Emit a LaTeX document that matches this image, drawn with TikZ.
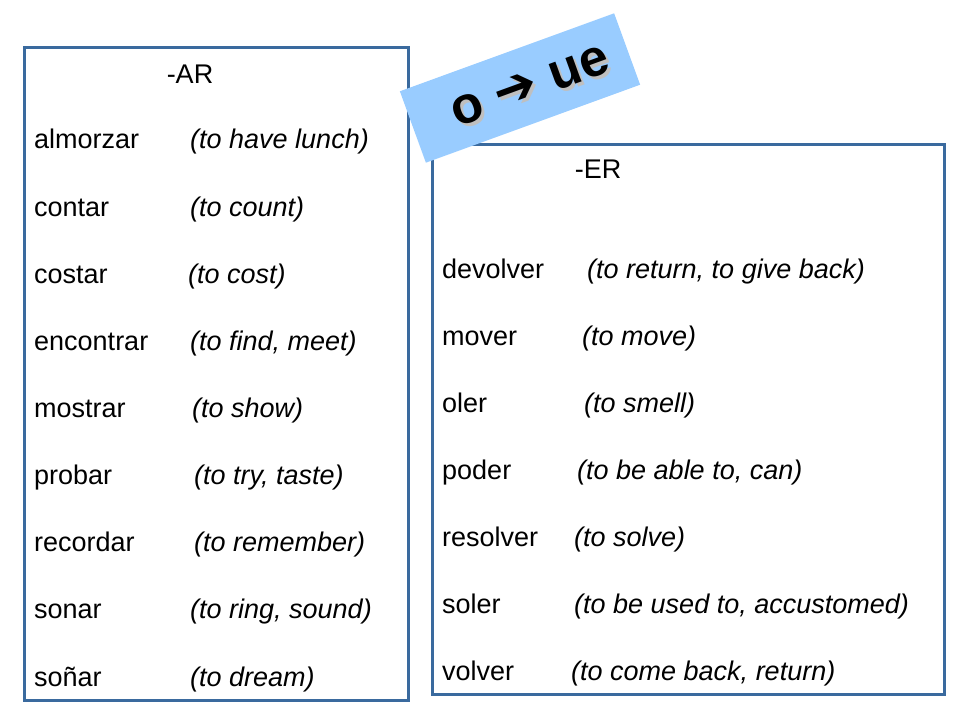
\documentclass[tikz,border=0pt]{standalone}
\usepackage{fontspec}
\setmainfont{Liberation Sans}
\newfontfamily\djv{DejaVu Sans}
\begin{document}
\begin{tikzpicture}[x=1pt,y=-1pt,
  box/.style={draw=boxc,line width=3pt},
  w/.style={anchor=base west,inner sep=0pt,font=\fontsize{27}{32}\selectfont},
  tr/.style={anchor=base west,inner sep=0pt,font=\fontsize{27}{32}\selectfont\itshape}]
\definecolor{boxc}{HTML}{3A6A9E}
\definecolor{lbl}{HTML}{99CCFF}
\useasboundingbox (0,0) rectangle (960,720);
\draw[box] (24,47) rectangle (408,700);
\draw[box] (432,144) rectangle (944,694);
\node[w,anchor=base] (ar) at (190,83) {-AR};
\foreach \v/\t/\x/\y [count=\i] in {almorzar/to have lunch/190/148, contar/to count/190/216, costar/to cost/188/283, encontrar/{to find, meet}/190/350, mostrar/to show/192/417, probar/{to try, taste}/194/484, recordar/to remember/194/551, sonar/{to ring, sound}/190/618, soñar/to dream/190/686}{
  \node[w] (l\i) at (34,\y) {\v};
  \node[tr] (lt\i) at (\x,\y) {(\t)};
}
\node[w,anchor=base] (er) at (598,178) {-ER};
\foreach \v/\t/\x/\y [count=\i] in {devolver/{to return, to give back}/587/278, mover/to move/582/345, oler/to smell/584/412, poder/{to be able to, can}/577/479, resolver/to solve/574/546, soler/{to be used to, accustomed}/574/613, volver/{to come back, return}/571/680}{
  \node[w] (r\i) at (442,\y) {\v};
  \node[tr] (rt\i) at (\x,\y) {(\t)};
}
\node[fill=lbl,rotate=20,minimum width=228,minimum height=76,inner sep=0pt] (lab) at (520,88) {};
\node[rotate=20,inner sep=0pt,font=\fontsize{52}{56}\selectfont\bfseries,text=gray!50] at (533,89) {o {\djv\bfseries ➔} ue};
\node[rotate=20,inner sep=0pt,font=\fontsize{52}{56}\selectfont\bfseries] (labt) at (530,86) {o {\djv\bfseries ➔} ue};
\end{tikzpicture}
\end{document}
